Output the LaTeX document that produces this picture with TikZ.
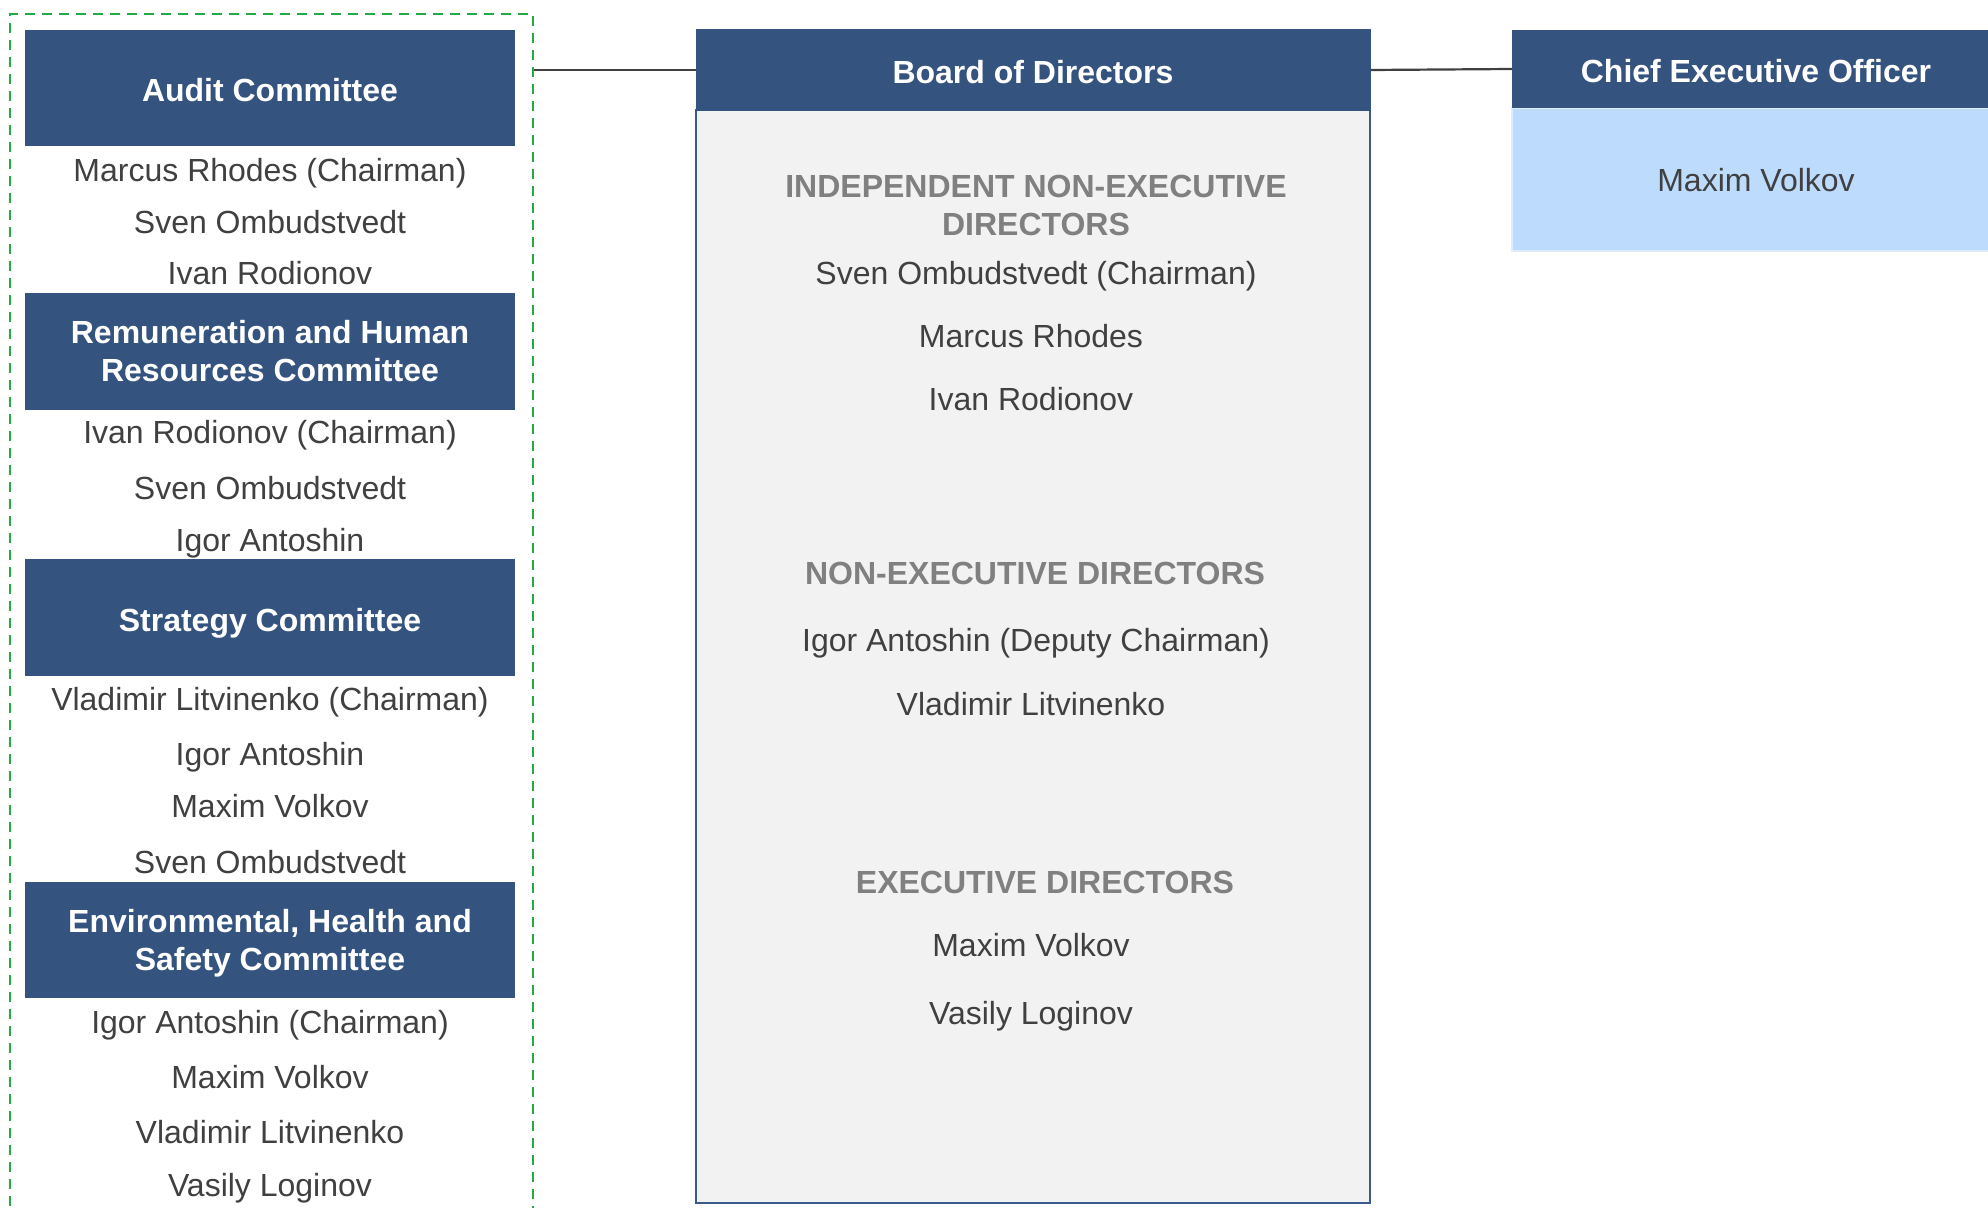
\documentclass[tikz,border=0pt]{standalone}
\usepackage{fontspec}
\setmainfont{Liberation Sans}
\definecolor{hdrblue}{HTML}{34537F}
\definecolor{ceoblue}{HTML}{BDDCFD}
\definecolor{bodygray}{HTML}{F2F2F2}
\definecolor{nametext}{HTML}{404040}
\definecolor{headgray}{HTML}{808080}
\definecolor{dashgreen}{HTML}{22AA44}
\definecolor{linegray}{HTML}{404040}
\definecolor{borderblue}{HTML}{3A5A8C}
\tikzset{
  hdr/.style={fill=hdrblue, text=white, font=\fontsize{32}{38}\selectfont\bfseries, align=center, inner sep=0pt},
  hdrone/.style={hdr, text height=27pt, text depth=0pt},
  member/.style={text=nametext, font=\fontsize{32}{38}\selectfont, anchor=base, inner sep=0pt},
  sect/.style={text=headgray, font=\fontsize{32}{38}\selectfont\bfseries, align=center, inner sep=0pt},
  conn/.style={draw=linegray, line width=2.2pt},
}
\begin{document}
\begin{tikzpicture}[x=1pt,y=-1pt]
\useasboundingbox (0,0) rectangle (1988,1207);
\clip (0,0) rectangle (1988,1207);
\fill[white] (0,0) rectangle (1988,1207);

% committees dashed frame
\node[draw=dashgreen, line width=2pt, dash pattern=on 10pt off 7pt, minimum width=523, minimum height=1206, inner sep=0pt] (committees) at (271.5,617) {};

% committee headers
\node[hdrone, minimum width=490, minimum height=116] (audit) at (270,88) {Audit Committee};
\node[hdr, minimum width=490, minimum height=117] (remun) at (270,351.5) {Remuneration and Human\\Resources Committee};
\node[hdrone, minimum width=490, minimum height=117] (strat) at (270,617.5) {Strategy Committee};
\node[hdr, text depth=0pt, minimum width=490, minimum height=116] (ehs) at (270,940) {Environmental, Health and\\Safety Committee};

% audit members
\node[member] (a1) at (270,181.5) {Marcus Rhodes (Chairman)};
\node[member] (a2) at (270,233.5) {Sven Ombudstvedt};
\node[member] (a3) at (270,284.5) {Ivan Rodionov};
% remuneration members
\node[member] (r1) at (270,443.5) {Ivan Rodionov (Chairman)};
\node[member] (r2) at (270,499.5) {Sven Ombudstvedt};
\node[member] (r3) at (270,551.5) {Igor Antoshin};
% strategy members
\node[member] (s1) at (270,710.5) {Vladimir Litvinenko (Chairman)};
\node[member] (s2) at (270,765.5) {Igor Antoshin};
\node[member] (s3) at (270,817.5) {Maxim Volkov};
\node[member] (s4) at (270,873.5) {Sven Ombudstvedt};
% ehs members
\node[member] (e1) at (270,1033.5) {Igor Antoshin (Chairman)};
\node[member] (e2) at (270,1088.5) {Maxim Volkov};
\node[member] (e3) at (270,1143.5) {Vladimir Litvinenko};
\node[member] (e4) at (270,1196.5) {Vasily Loginov};

% board of directors
\node[fill=bodygray, draw=borderblue, line width=2pt, minimum width=674, minimum height=1093, inner sep=0pt] (boardbody) at (1033,656.5) {};
\node[hdrone, draw=hdrblue, line width=1pt, minimum width=674, minimum height=80] (board) at (1033,70) {Board of Directors};

\node[sect] (ind) at (1036,205) {INDEPENDENT NON-EXECUTIVE\\DIRECTORS};
\node[member] (b1) at (1036,284.5) {Sven Ombudstvedt (Chairman)};
\node[member] (b2) at (1031,347.5) {Marcus Rhodes};
\node[member] (b3) at (1031,410.5) {Ivan Rodionov};
\node[sect, anchor=base] (nonexec) at (1035,584.5) {NON-EXECUTIVE DIRECTORS};
\node[member] (b4) at (1036,651.5) {Igor Antoshin (Deputy Chairman)};
\node[member] (b5) at (1031,715.5) {Vladimir Litvinenko};
\node[sect, anchor=base] (exec) at (1045,893.5) {EXECUTIVE DIRECTORS};
\node[member] (b6) at (1031,956.5) {Maxim Volkov};
\node[member] (b7) at (1031,1024.5) {Vasily Loginov};

% CEO
\node[fill=ceoblue, draw=ceoblue!50!white, line width=1.5pt, minimum width=488, minimum height=143, inner sep=0pt] (ceobody) at (1756,179.5) {};
\node[hdrone, minimum width=488, minimum height=78] (ceo) at (1756,69) {Chief Executive Officer};
\node[member] (c1) at (1756,191.5) {Maxim Volkov};

% connectors
\draw[conn] (committees.east |- board.west) -- (board.west);
\draw[conn] (board.east) -- (ceo.west);
\end{tikzpicture}
\end{document}
